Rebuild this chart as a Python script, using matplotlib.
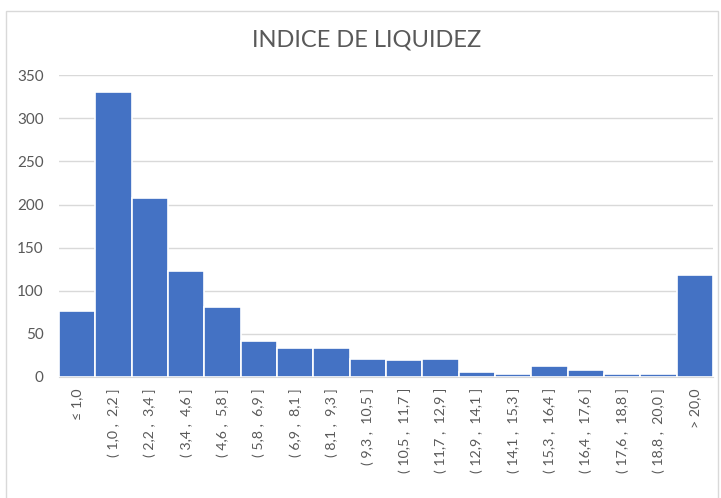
import matplotlib.pyplot as plt
import numpy as np
from matplotlib.patches import Rectangle

# Bin labels and counts
bins = ['≤ 1,0', '( 1,0 ,  2,2 ]', '( 2,2 ,  3,4 ]', '( 3,4 ,  4,6 ]',
        '( 4,6 ,  5,8 ]', '( 5,8 ,  6,9 ]', '( 6,9 ,  8,1 ]', '( 8,1 ,  9,3 ]',
        '( 9,3 ,  10,5 ]', '( 10,5 ,  11,7 ]', '( 11,7 ,  12,9 ]',
        '( 12,9 ,  14,1 ]', '( 14,1 ,  15,3 ]', '( 15,3 ,  16,4 ]',
        '( 16,4 ,  17,6 ]', '( 17,6 ,  18,8 ]', '( 18,8 ,  20,0 ]', '> 20,0']
counts = [76, 330, 207, 123, 81, 42, 34, 34, 21, 20, 21, 6, 3, 13, 8, 4, 3, 118]

title = 'INDICE DE LIQUIDEZ'
bar_color = '#4472C4'
text_color = '#595959'
grid_color = '#d9d9d9'

plt.rcParams['font.family'] = ['Lato', 'DejaVu Sans']

fig = plt.figure(figsize=(7.21, 4.98), dpi=100)
ax = fig.add_axes([0.0818, 0.243, 0.907, 0.606])

# chart area border
fig.patches.append(Rectangle((6 / 721, -0.01), 712 / 721, 1 - 11 / 498 + 0.01,
                             transform=fig.transFigure, fill=False,
                             edgecolor='#d9d9d9', linewidth=1))

x = np.arange(len(bins))
ax.bar(x, counts, width=1.0, color=bar_color, edgecolor='white', linewidth=1.2,
       zorder=3)

ax.set_xlim(-0.5, len(bins) - 0.5)
ax.set_ylim(0, 350)
ax.set_yticks(range(0, 351, 50))
ax.yaxis.grid(True, color=grid_color, linewidth=1)
ax.set_axisbelow(True)

ax.set_xticks(x)
ax.set_xticklabels(bins, rotation=90, fontsize=10.2, color=text_color)
ax.tick_params(axis='y', labelsize=11, labelcolor=text_color, length=0, pad=11)
ax.tick_params(axis='x', length=0, pad=8)

for side in ['top', 'right', 'left']:
    ax.spines[side].set_visible(False)
ax.spines['bottom'].set_color(grid_color)

fig.text(0.509, 0.92, title, ha='center', va='center', fontsize=17,
         color=text_color)

plt.savefig('out.png', dpi=100)
plt.close()
